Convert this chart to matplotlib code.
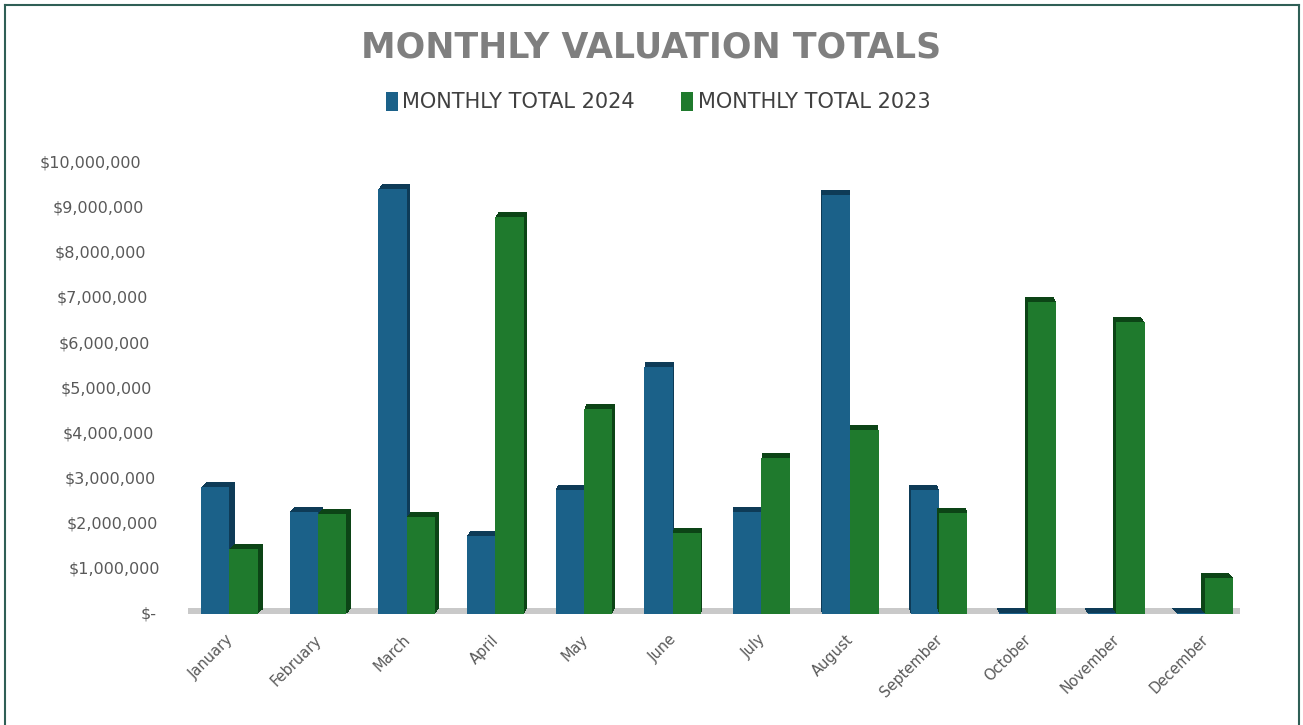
import matplotlib
matplotlib.use("Agg")
import matplotlib.pyplot as plt
import matplotlib.patheffects as pe
import matplotlib.transforms as mtrans
from matplotlib.patches import Patch
from matplotlib.lines import Line2D
import numpy as np

months = ["January", "February", "March", "April", "May", "June", "July",
          "August", "September", "October", "November", "December"]
total_2024 = [2820000, 2270000, 9430000, 1730000, 2750000, 5490000, 2270000,
              9300000, 2750000, 30000, 30000, 30000]
total_2023 = [1450000, 2230000, 2160000, 8800000, 4540000, 1800000, 3470000,
              4080000, 2250000, 6930000, 6470000, 800000]
series_names = ["MONTHLY TOTAL 2024", "MONTHLY TOTAL 2023"]
y_ticks = list(range(0, 10000001, 1000000))

c24, c24d = "#1b6189", "#0e3b57"
c23, c23d = "#1f7a2d", "#0c4416"

fig = plt.figure(figsize=(13.03, 7.25), dpi=100)
ax = fig.add_axes([0.144, 0.153, 0.808, 0.622])

x = np.arange(len(months))
w = 0.32
n = len(months)


def extrude(dx, dy, dark):
    effs = []
    steps = 8
    for k in range(1, steps + 1):
        effs.append(pe.SimplePatchShadow(offset=(dx * k / steps, dy * k / steps),
                                         shadow_rgbFace=dark, alpha=1.0))
    effs.append(pe.Normal())
    return effs


# floor
ax.fill_between([-0.47, 11.4], 0, 130000, color="#c9c9c9", zorder=0, lw=0)

bars24 = ax.bar(x - w / 2, total_2024, width=w, color=c24, zorder=2, lw=0)
bars23 = ax.bar(x + w / 2, total_2023, width=w, color=c23, zorder=3, lw=0)
for i in range(n):
    dx = 4.0 - 7.0 * i / (n - 1)
    bars24[i].set_path_effects(extrude(dx, 3.5, c24d))
    bars23[i].set_path_effects(extrude(dx, 3.5, c23d))

ax.set_xlim(-0.47, 11.4)
ax.set_ylim(0, 10000000)
ax.set_yticks([])

# y labels with slight perspective shift (right edge moves right going down)
for v in y_ticks:
    k = v / 1000000
    label = "$-" if v == 0 else "${:,.0f}".format(v)
    shift = -(46 - 2.0 * (10 - k)) if v != 0 else -31
    tr = mtrans.offset_copy(ax.get_yaxis_transform(), fig=fig, x=shift * 0.72, y=0, units="points")
    ax.text(0, v, label, transform=tr, ha="right", va="center", fontsize=11.5, color="#595959")

ax.set_xticks(x)
ax.set_xticklabels(months, rotation=45, ha="right", rotation_mode="anchor")
ax.tick_params(axis="both", length=0, colors="#595959")
ax.tick_params(axis="x", labelsize=10.5, pad=13)
for lab in ax.get_xticklabels():
    lab.set_transform(lab.get_transform() + mtrans.ScaledTranslation(-3 / 72, 0, fig.dpi_scale_trans))
for s in ax.spines.values():
    s.set_visible(False)

fig.text(0.5, 0.935, "MONTHLY VALUATION TOTALS", ha="center", va="center",
         fontsize=25, fontweight="bold", color="#7f7f7f")

handles = [Patch(facecolor=c24, edgecolor="none"), Patch(facecolor=c23, edgecolor="none")]
leg = fig.legend(handles, series_names, loc="center", bbox_to_anchor=(0.505, 0.859),
                 ncol=2, frameon=False, fontsize=15, handlelength=0.6, handleheight=1.0,
                 handletextpad=0.2, columnspacing=2.2)
for t in leg.get_texts():
    t.set_color("#404040")

# border
bc = "#2f5f56"
fig.add_artist(Line2D([0.004, 0.004], [0, 0.993], transform=fig.transFigure, color=bc, lw=1.5))
fig.add_artist(Line2D([0.004, 0.997], [0.993, 0.993], transform=fig.transFigure, color=bc, lw=1.5))
fig.add_artist(Line2D([0.997, 0.997], [0, 0.993], transform=fig.transFigure, color=bc, lw=1.5))

fig.savefig("out.png", dpi=100)
